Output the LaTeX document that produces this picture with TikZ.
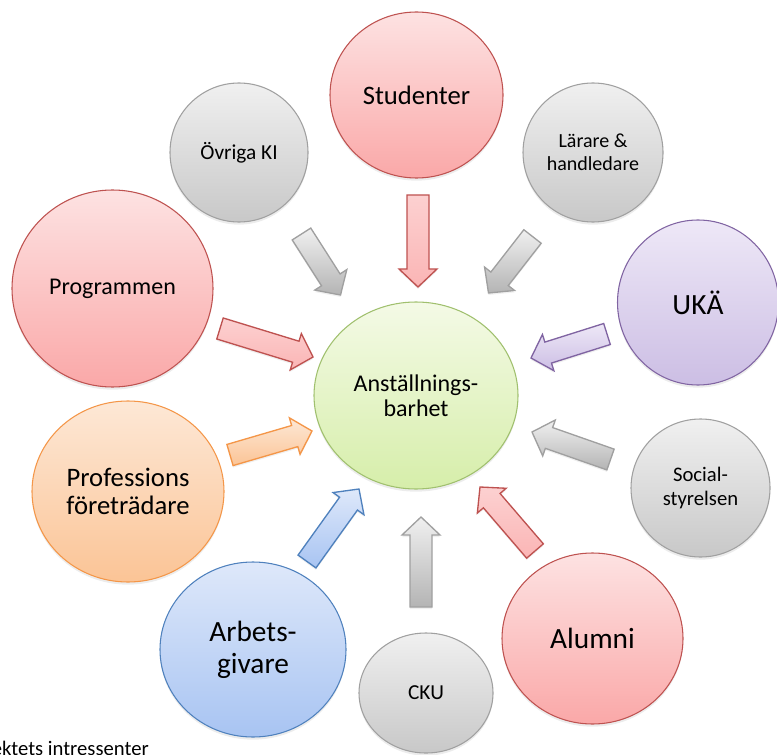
\documentclass[tikz,border=0pt]{standalone}
\usepackage{fontspec}
\setmainfont{Carlito}
\usetikzlibrary{shapes.geometric,calc,shadows}
\definecolor{redB}{RGB}{190,82,80}
\definecolor{redT}{RGB}{253,226,226}
\definecolor{redL}{RGB}{250,168,168}
\definecolor{grayB}{RGB}{160,160,160}
\definecolor{grayT}{RGB}{240,240,240}
\definecolor{grayL}{RGB}{200,200,200}
\definecolor{purB}{RGB}{128,100,162}
\definecolor{purT}{RGB}{238,232,247}
\definecolor{purL}{RGB}{204,190,228}
\definecolor{oraB}{RGB}{244,150,72}
\definecolor{oraT}{RGB}{253,232,214}
\definecolor{oraL}{RGB}{251,196,150}
\definecolor{bluB}{RGB}{79,129,189}
\definecolor{bluT}{RGB}{222,232,250}
\definecolor{bluL}{RGB}{168,196,242}
\definecolor{greB}{RGB}{160,192,110}
\definecolor{greT}{RGB}{244,250,230}
\definecolor{greL}{RGB}{214,238,170}
\tikzset{
  bub/.style={ellipse, inner sep=0pt, align=center, line width=0.8pt,
    drop shadow={opacity=0.15, shadow xshift=0pt, shadow yshift=-2pt}},
  sz/.style 2 args={minimum width=#1*0.75pt, minimum height=#2*0.75pt},
  redbub/.style={bub, draw=redB, top color=redT, bottom color=redL},
  graybub/.style={bub, draw=grayB, top color=grayT, bottom color=grayL},
  purbub/.style={bub, draw=purB, top color=purT, bottom color=purL},
  orabub/.style={bub, draw=oraB, top color=oraT, bottom color=oraL},
  blubub/.style={bub, draw=bluB, top color=bluT, bottom color=bluL},
  grebub/.style={bub, draw=greB, top color=greT, bottom color=greL},
  arr/.style={line width=1pt, line join=miter,
    drop shadow={opacity=0.12, shadow xshift=0pt, shadow yshift=-1.5pt}},
  redarr/.style={arr, draw=redB, top color=redT!70!redL, bottom color=redL!85!white},
  grayarr/.style={arr, draw=grayB, top color=grayT, bottom color=grayL!90!black},
  purarr/.style={arr, draw=purB, top color=purT, bottom color=purL},
  oraarr/.style={arr, draw=oraB, top color=oraT, bottom color=oraL},
  bluarr/.style={arr, draw=bluB, top color=bluT, bottom color=bluL},
}
\newcommand{\blockarrow}[3]{%
  \coordinate (hb) at ($(#3)!13.5pt!(#2)$);
  \draw[#1] ($(#2)!8.25pt!90:(#3)$) -- ($(hb)!8.25pt!90:(#3)$) --
    ($(hb)!14.25pt!90:(#3)$) -- (#3) -- ($(hb)!14.25pt!-90:(#3)$) --
    ($(hb)!8.25pt!-90:(#3)$) -- ($(#2)!8.25pt!-90:(#3)$) -- cycle;
}
\begin{document}
\begin{tikzpicture}[x=0.75pt, y=-0.75pt]
\useasboundingbox (0,0) rectangle (777,755);
% arrows
\coordinate (t1) at (418,195);   \coordinate (h1) at (418,287);
\coordinate (t2) at (301.5,234); \coordinate (h2) at (340.5,295);
\coordinate (t3) at (532.5,236.5); \coordinate (h3) at (488.5,293);
\coordinate (t4) at (607,334);   \coordinate (h4) at (531,358);
\coordinate (t5) at (220,328.5); \coordinate (h5) at (313,357);
\coordinate (t6) at (230,455);   \coordinate (h6) at (312,431);
\coordinate (t7) at (307,561.5); \coordinate (h7) at (359,489);
\coordinate (t8) at (421,607);   \coordinate (h8) at (421,517);
\coordinate (t9) at (535,551);   \coordinate (h9) at (480,487);
\coordinate (t10) at (610.5,459.5); \coordinate (h10) at (532,432);
\blockarrow{redarr}{t1}{h1}
\blockarrow{grayarr}{t2}{h2}
\blockarrow{grayarr}{t3}{h3}
\blockarrow{purarr}{t4}{h4}
\blockarrow{redarr}{t5}{h5}
\blockarrow{oraarr}{t6}{h6}
\blockarrow{bluarr}{t7}{h7}
\blockarrow{grayarr}{t8}{h8}
\blockarrow{redarr}{t9}{h9}
\blockarrow{grayarr}{t10}{h10}
% circles
\node[redbub, sz={173}{166}, font=\fontsize{20}{22}\selectfont] (stu) at (416.5,95) {Studenter};
\node[graybub, sz={138}{139}, font=\fontsize{16}{18}\selectfont] (ovr) at (239,152.5) {Övriga KI};
\node[graybub, sz={140}{139}, font=\fontsize{15}{17.3}\selectfont] (lar) at (593,152.5) {Lärare \&\\handledare};
\node[purbub, sz={161}{165}, font=\fontsize{22}{24}\selectfont] (uka) at (698,302.5) {UKÄ};
\node[redbub, sz={201}{197}, font=\fontsize{18}{20}\selectfont] (prg) at (112.5,288.5) {Programmen};
\node[grebub, sz={204}{187}, font=\fontsize{18}{18.5}\selectfont] (cen) at (416,395.5) {Anställnings-\\barhet};
\node[orabub, sz={192}{181}, font=\fontsize{20}{21.5}\selectfont] (pro) at (128,491.5) {Professions\\företrädare};
\node[graybub, sz={139}{138}, font=\fontsize{15.5}{18}\selectfont] (soc) at (700.5,488) {Social-\\styrelsen};
\node[blubub, sz={186}{175}, font=\fontsize{22}{23.8}\selectfont] (arb) at (253,649.5) {Arbets-\\givare};
\node[graybub, sz={134}{120}, font=\fontsize{16}{18}\selectfont] (cku) at (426,693) {CKU};
\node[redbub, sz={181}{171}, font=\fontsize{22}{24}\selectfont] (alu) at (592.5,638.5) {Alumni};
% caption (cut off at the page edges, as in the reference)
\node[anchor=base east, inner sep=0pt, font=\fontsize{15.5}{17}\selectfont] (cap) at (149,755.5) {ektets intressenter};
\end{tikzpicture}
\end{document}
